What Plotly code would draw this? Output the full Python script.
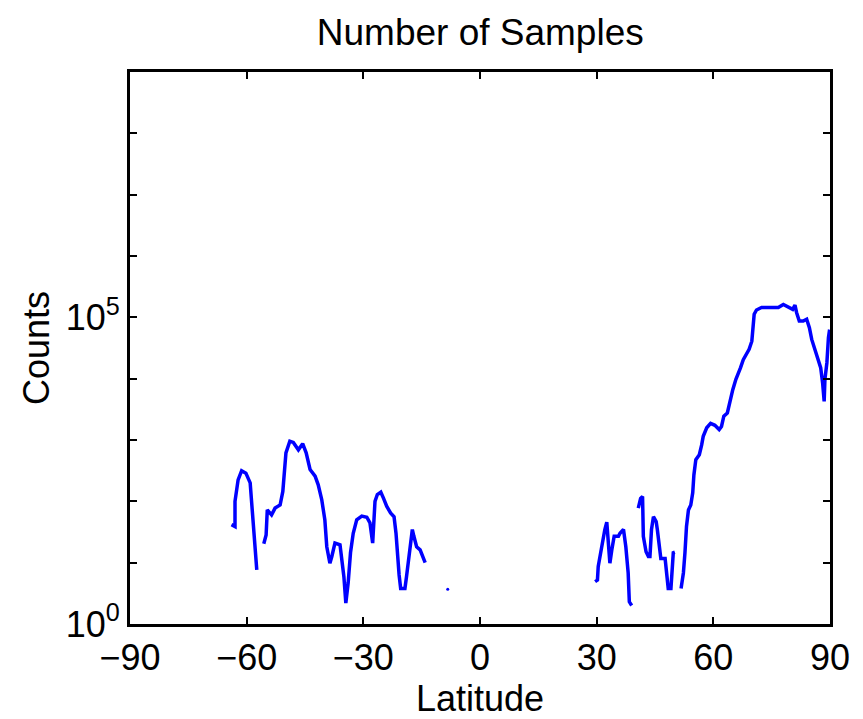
import plotly.graph_objects as go

# Southern hemisphere segment (latitude, counts)
south_lat = [-63.9, -63.0, -63.0, -62.2, -61.3, -60.2, -59.1, -58.7, -58.3, -57.9, -57.4]
south_cnt = [41.7, 38.9, 100, 224, 316, 288, 200, 100, 50.1, 20.9, 7.6]

mid_lat = [-55.6, -55.0, -54.7, -53.6, -52.7, -51.4, -50.7, -50.4, -49.9, -48.9, -48.0, -46.7,
           -45.6, -44.7, -43.7, -42.4, -41.6, -40.7, -39.9, -39.4, -38.6, -38.1, -37.3, -36.0,
           -35.6, -35.0, -34.5, -33.9, -33.3, -32.6, -31.7, -30.4, -29.1, -28.3, -27.6, -27.4,
           -27.0, -26.4, -25.5, -24.8, -24.0, -23.0, -22.1, -21.6, -21.3, -20.8, -20.4, -19.3,
           -18.9, -18.4, -17.8, -17.4, -17.0, -16.3, -15.4, -14.7, -14.1]
mid_cnt = [20.4, 28.2, 72.4, 60.3, 77.6, 87.1, 145, 224, 617, 955, 912, 692,
           871, 617, 331, 257, 186, 107, 50.1, 18.2, 9.8, 12.6, 20.9, 19.5,
           12.6, 5.9, 2.2, 4.7, 14.5, 30.2, 50.1, 57.5, 55.0, 44.7, 20.9, 44.7,
           100, 129, 141, 112, 83.2, 64.6, 56.2, 30.2, 14.5, 6.3, 3.8, 3.8,
           5.9, 11.2, 20.9, 34.7, 26.9, 18.2, 16.2, 12.6, 10.0]

# Isolated sample
iso_lat = [-8.3]
iso_cnt = [3.7]

# Northern hemisphere segments
n1_lat = [29.6, 30.2, 30.4, 31.0, 31.5, 32.1, 32.6, 33.0, 33.4, 33.9, 34.5, 35.6, 36.0, 36.9,
          37.5, 38.1, 38.4, 39.0]
n1_cnt = [4.9, 5.2, 8.7, 14.5, 23.4, 34.7, 45.7, 23.4, 9.8, 16.2, 26.9, 26.9, 30.2, 34.7,
          18.2, 6.8, 2.3, 2.0]

n2_lat = [40.7, 41.3, 41.8, 42.0, 42.7, 43.3, 43.7, 44.1, 44.6, 45.3, 45.6, 46.1, 46.5, 47.6,
          48.0, 48.4, 49.1, 49.3, 49.7, 50.1]
n2_cnt = [77.6, 112, 120, 26.9, 15.1, 12.6, 12.6, 34.7, 56.2, 46.8, 34.7, 18.2, 11.7, 11.7,
          6.8, 3.8, 3.8, 7.6, 14.5, 14.8]

n3_lat = [51.7, 52.3, 52.7, 53.1, 53.6, 54.2, 54.7, 55.0, 55.5, 56.4, 57.0, 57.4, 58.3, 59.3,
          60.4, 61.5, 62.1, 62.7, 63.6, 64.3, 65.0, 65.8, 66.4, 67.0, 67.7, 68.6, 69.2, 69.9,
          70.1, 70.5, 71.1, 72.4, 74.6, 76.7, 78.0, 79.3, 80.4, 81.0, 81.4, 82.1, 83.1, 84.0,
          84.7, 85.3, 86.1, 87.0, 87.6, 88.1, 88.5, 88.7, 89.2, 89.6, 89.9]
n3_cnt = [3.8, 6.8, 14.5, 38.9, 72.4, 87.1, 138, 269, 479, 575, 832, 1148, 1585, 1862,
          1738, 1479, 1660, 2455, 2754, 4571, 6607, 9772, 11749, 15136, 20417, 25119, 30200, 40738,
          63096, 112202, 131826, 144544, 144544, 144544, 162181, 144544, 134896, 158489, 120226, 87096, 87096, 93325,
          67608, 43652, 30200, 21878, 15136, 8511, 4266, 9772, 18197, 46774, 63096]

x_ticks = [-90, -60, -30, 0, 30, 60, 90]
y_tickvals = [1, 1e5]
y_ticktext = ["10<sup>0</sup>", "10<sup>5</sup>"]
y_minor_ticks = [1e1, 1e2, 1e3, 1e4, 1e6, 1e7, 1e8, 1e9]

lat_all = south_lat + [None] + mid_lat + [None] + n1_lat + [None] + n2_lat + [None] + n3_lat
cnt_all = south_cnt + [None] + mid_cnt + [None] + n1_cnt + [None] + n2_cnt + [None] + n3_cnt

BLUE = "#0000FF"
FONT = "Liberation Sans, Arial, Helvetica, sans-serif"

fig = go.Figure()
fig.add_trace(go.Scatter(x=lat_all, y=cnt_all, mode="lines",
                         line=dict(color=BLUE, width=3.5), connectgaps=False,
                         showlegend=False, hoverinfo="x+y"))
fig.add_trace(go.Scatter(x=iso_lat, y=iso_cnt, mode="markers",
                         marker=dict(color=BLUE, size=3), showlegend=False))

fig.update_layout(
    width=863, height=719,
    margin=dict(l=130, r=33, t=72, b=95),
    paper_bgcolor="white", plot_bgcolor="white",
    font=dict(family=FONT, size=36, color="black"),
    title=dict(text="Number of Samples", x=0.5565, xanchor="center",
               y=0.955, yanchor="middle", font=dict(size=37, color="black")),
)
fig.update_xaxes(
    range=[-90, 90], tickvals=x_ticks, ticktext=[str(v).replace("-", "\u2212") for v in x_ticks],
    showline=True, linecolor="black", linewidth=3, mirror="ticks",
    ticks="inside", ticklen=7, tickwidth=2, tickcolor="black",
    showgrid=False, zeroline=False,
    title=dict(text="Latitude", standoff=0, font=dict(size=36)),
    tickfont=dict(size=36),
)
fig.update_yaxes(
    type="log", range=[0, 9], tickvals=y_tickvals, ticktext=y_ticktext,
    showline=True, linecolor="black", linewidth=3, mirror="ticks",
    ticks="inside", ticklen=7, tickwidth=2, tickcolor="black",
    minor=dict(tickvals=y_minor_ticks, ticks="inside", ticklen=7, tickwidth=2,
               tickcolor="black", showgrid=False),
    showgrid=False, zeroline=False,
    title=dict(text="Counts", standoff=6, font=dict(size=36)),
    tickfont=dict(size=36),
)

fig.write_html("out.html")
